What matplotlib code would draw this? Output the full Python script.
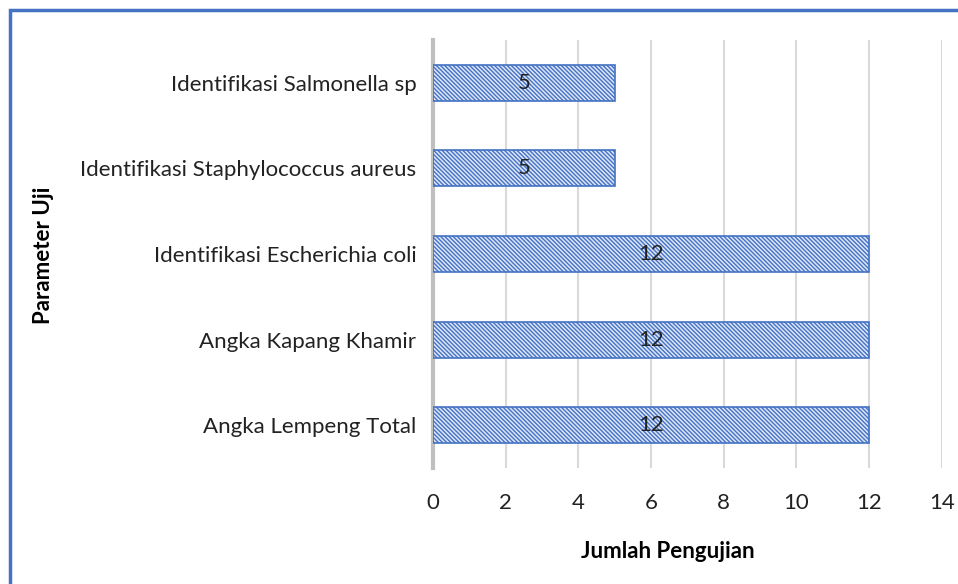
import matplotlib
matplotlib.use('Agg')
import matplotlib.pyplot as plt
from matplotlib.patches import Rectangle

# data (bottom to top)
categories = ['Angka Lempeng Total', 'Angka Kapang Khamir', 'Identifikasi Escherichia coli',
              'Identifikasi Staphylococcus aureus', 'Identifikasi Salmonella sp']
values = [12, 12, 12, 5, 5]
x_ticks = [0, 2, 4, 6, 8, 10, 12, 14]

plt.rcParams['font.family'] = ['Lato', 'DejaVu Sans']
plt.rcParams['hatch.color'] = '#5B85D0'
plt.rcParams['hatch.linewidth'] = 1.0

fig = plt.figure(figsize=(9.58, 5.84), dpi=100)
ax = fig.add_axes([0.452, 0.1986, 0.531, 0.733])

y = range(len(categories))
bars = ax.barh(y, values, height=0.42, color='#DDE6F7', edgecolor='#4472C4',
               linewidth=1.2, hatch='\\' * 8, zorder=3)
for b, v in zip(bars, values):
    ax.text(v / 2, b.get_y() + b.get_height() / 2, str(v), ha='center', va='center',
            fontsize=16, color='#222222', zorder=4)

ax.set_xlim(0, 14)
ax.set_ylim(-0.5, 4.5)
ax.set_xticks(x_ticks)
ax.set_yticks(list(y))
ax.set_yticklabels(categories)
ax.tick_params(axis='both', length=0, labelsize=16, colors='#222222')
ax.tick_params(axis='x', pad=18)
ax.tick_params(axis='y', pad=12)
ax.grid(axis='x', color='#D9D9D9', linewidth=1.5, zorder=0)
for s in ['top', 'right', 'bottom']:
    ax.spines[s].set_visible(False)
ax.spines['left'].set_color('#BFBFBF')
ax.spines['left'].set_linewidth(3)

fig.text(668 / 958, 1 - 552 / 584, 'Jumlah Pengujian', ha='center', va='center',
         fontsize=16, fontweight='bold')
fig.text(43 / 958, 1 - 255 / 584, 'Parameter Uji', ha='center', va='center',
         rotation=90, fontsize=16, fontweight='bold')

# outer border (cropped on the right and bottom)
fig.patches.append(Rectangle((10 / 958, -0.1), 1.2, 1.1 - 10 / 584, transform=fig.transFigure,
                             fill=False, edgecolor='#4472C4', linewidth=2.5))

fig.savefig('out.png', dpi=100)
